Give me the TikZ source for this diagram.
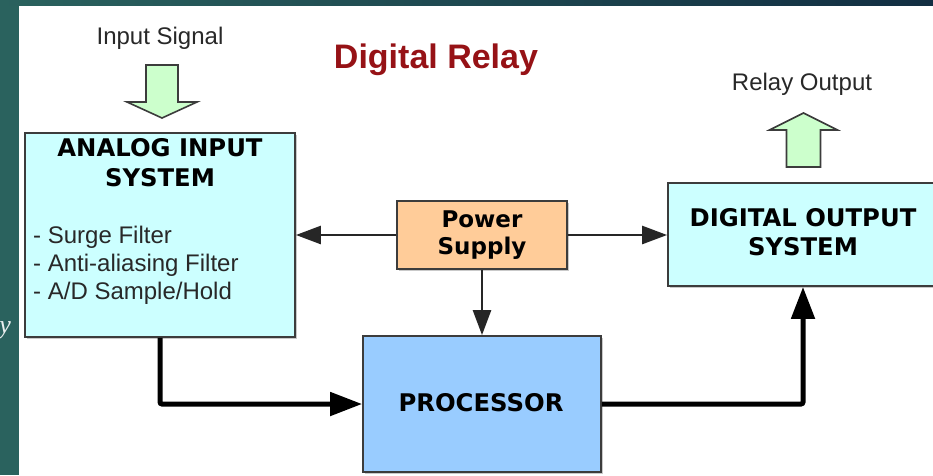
\documentclass[tikz,border=0pt]{standalone}
\usepackage{fontspec}
\setmainfont{Liberation Sans}
\newfontfamily\boxfont{DejaVu Sans}
\newfontfamily\slidefont{Liberation Serif}
\usetikzlibrary{arrows.meta,shadows,calc}
\definecolor{slideteal}{RGB}{42,98,94}
\definecolor{slidenavy}{RGB}{18,46,66}
\definecolor{cyanfill}{RGB}{204,255,255}
\definecolor{peachfill}{RGB}{255,204,153}
\definecolor{bluefill}{RGB}{153,204,255}
\definecolor{greenfill}{RGB}{204,255,204}
\definecolor{titlered}{RGB}{150,18,22}
\definecolor{edgegray}{RGB}{60,60,60}
\definecolor{textgray}{RGB}{40,40,40}
\tikzset{
  blockbox/.style={draw=edgegray, line width=1.8pt, inner sep=0pt,
    drop shadow={shadow xshift=2pt, shadow yshift=-2pt, opacity=0.35, fill=black!60}},
  boxtitle/.style={font=\boxfont\bfseries\fontsize{24.3}{29}\selectfont, text=black, align=center, inner sep=0pt},
  plaintext/.style={font=\fontsize{24}{28}\selectfont, text=textgray, inner sep=0pt},
  itemtext/.style={font=\fontsize{24}{28}\selectfont, text=textgray, inner sep=0pt, anchor=west},
  thinarrow/.style={draw=black!85, line width=2.6pt, -{Triangle[length=25pt,width=18pt]}},
  thickarrow/.style={draw=black, line width=5pt, -{Triangle[length=32pt,width=23pt]}, rounded corners=2pt},
  blockarrow/.style={draw=edgegray, line width=1.6pt, fill=greenfill, line join=miter}
}
\begin{document}
\begin{tikzpicture}[x=1pt,y=-1pt]
\useasboundingbox (0,0) rectangle (933,475);
\clip (0,0) rectangle (933,475);
% slide background
\fill[white] (0,0) rectangle (933,475);
\fill[slideteal] (0,0) rectangle (19,475);
\shade[left color=slideteal, right color=slidenavy] (0,0) rectangle (933,5);
\node[anchor=east, inner sep=0pt, text=white!90!slideteal, font=\slidefont\itshape\fontsize{26}{30}\selectfont] (slidey) at (11,330) {y};

% title
\node[font=\bfseries\fontsize{34}{40}\selectfont, text=titlered, inner sep=0pt] (title) at (436,60) {Digital Relay};

% boxes
\node[blockbox, fill=cyanfill, minimum width=270pt, minimum height=204pt] (analog) at (160,235) {};
\node[blockbox, fill=peachfill, minimum width=170pt, minimum height=68pt] (power) at (482,235) {};
\node[blockbox, fill=bluefill, minimum width=238pt, minimum height=136pt] (proc) at (482,404) {};
\node[blockbox, fill=cyanfill, minimum width=270pt, minimum height=103pt] (digout) at (803,234.5) {};

% box texts
\node[boxtitle] (antitle1) at (160,148) {ANALOG INPUT};
\node[boxtitle] (antitle2) at (160,178) {SYSTEM};
\node[itemtext] (item1) at (33,237) {- Surge Filter};
\node[itemtext] (item2) at (33,265) {- Anti-aliasing Filter};
\node[itemtext] (item3) at (33,293) {- A/D Sample/Hold};
\node[boxtitle, font=\boxfont\bfseries\fontsize{23}{29}\selectfont] (pwtext1) at (482,219) {Power};
\node[boxtitle, font=\boxfont\bfseries\fontsize{23}{29}\selectfont] (pwtext2) at (482,248) {Supply};
\node[boxtitle] (proctext) at (481,403) {PROCESSOR};
\node[boxtitle] (dotext1) at (803,218) {DIGITAL OUTPUT};
\node[boxtitle] (dotext2) at (803,247) {SYSTEM};

% input / output labels
\node[plaintext] (insig) at (160,38) {Input Signal};
\node[plaintext] (relout) at (802,84) {Relay Output};

% block arrows
\coordinate (inarrowtop) at (162,65);
\coordinate (inarrowtip) at (162,118);
\draw[blockarrow] ($(inarrowtop)+(-16,0)$) -- ($(inarrowtop)+(16,0)$) -- ($(inarrowtop)+(16,37)$) -- ($(inarrowtop)+(35,37)$) -- (inarrowtip) -- ($(inarrowtop)+(-35,37)$) -- ($(inarrowtop)+(-16,37)$) -- cycle;
\coordinate (outarrowtip) at (803.5,113);
\coordinate (outarrowbot) at (803.5,167);
\draw[blockarrow] ($(outarrowbot)+(-17,0)$) -- ($(outarrowbot)+(17,0)$) -- ($(outarrowbot)+(17,-37)$) -- ($(outarrowbot)+(34,-37)$) -- (outarrowtip) -- ($(outarrowbot)+(-34,-37)$) -- ($(outarrowbot)+(-17,-37)$) -- cycle;

% connectors
\draw[thinarrow] (power.west) -- (power.west -| analog.east);
\draw[thinarrow] (power.east) -- (power.east -| digout.west);
\draw[thinarrow] (power.south) -- (proc.north);
\draw[thickarrow] (analog.south) |- (proc.west);
\draw[thickarrow] (proc.east) -| (digout.south);
\end{tikzpicture}
\end{document}
